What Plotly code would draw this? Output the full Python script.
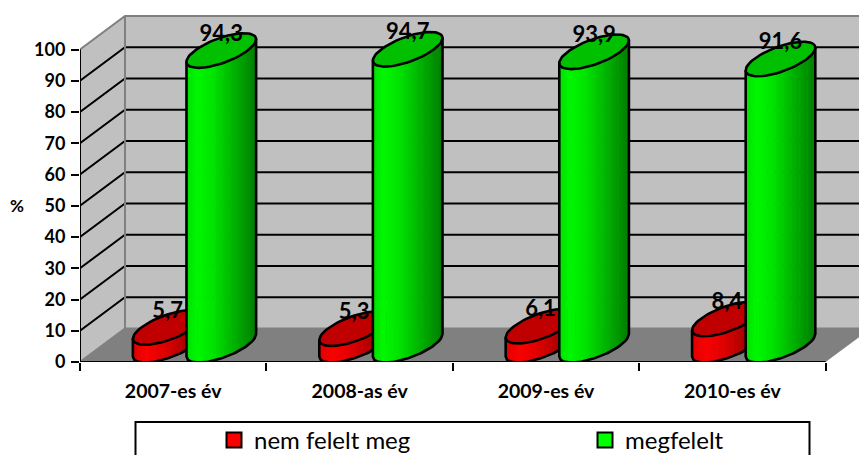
import numpy as np
import plotly.graph_objects as go

categories = ["2007-es év", "2008-as év", "2009-es év", "2010-es év"]
nem_felelt_meg = [5.7, 5.3, 6.1, 8.4]
megfelelt = [94.3, 94.7, 93.9, 91.6]
value_ticks = [0, 10, 20, 30, 40, 50, 60, 70, 80, 90, 100]

W, H = 859, 455
L, B = 80, 93
PB = H - B       # pixel row of the value 0
PW = W - L
PX_X = 186.4     # px per category
PX_Y = 3.125     # px per value unit
FONT = "Lato"

# 3D-look projection, in axis units
DEPTH_X = 45 / PX_X
DEPTH_Y = 33.5 / PX_Y
RX = 26.4 / PX_X
HX = 22.7 / PX_X
HY = 17.3 / PX_Y
T0 = np.arctan2(HX, RX)
GROUP = 26.8 / PX_X
NUDGE = -1.2 / PX_X
LABEL_LIFT = 1.4

RED_STOPS = [(0, (225, 0, 0)), (.2, (250, 0, 0)), (.45, (225, 0, 0)), (1, (130, 0, 0))]
GREEN_STOPS = [(0, (0, 225, 0)), (.15, (0, 248, 0)), (.4, (0, 225, 0)), (1, (0, 125, 0))]
RED_TOP = "rgb(192,0,0)"
GREEN_TOP = "rgb(0,192,0)"
OUTLINE = 2.6


def arc(cx, cy, t):
    return cx + RX * np.cos(t) + HX * np.sin(t), cy + HY * np.sin(t)


def front_t(f):
    return T0 + 2 * np.pi - np.arccos(2 * np.asarray(f) - 1)


def shade(f, stops):
    fs = [s[0] for s in stops]
    c = [np.interp(f, fs, [s[1][k] for s in stops]) for k in range(3)]
    return "rgb(%d,%d,%d)" % tuple(int(v) for v in c)


def poly(x, y, color):
    return go.Scatter(x=list(x), y=list(y), mode="lines", fill="toself", fillcolor=color,
                      line=dict(width=0, color=color), hoverinfo="skip",
                      showlegend=False, cliponaxis=False)


def cylinder(fig, cx, value, stops, top):
    base = DEPTH_Y / 2
    N = 26
    edges = np.linspace(0, 1, N + 1)
    for i in range(N):
        fs = np.linspace(edges[i], min(edges[i + 1] + 0.008, 1), 4)
        xb, yb = arc(cx, base, front_t(fs))
        xt, yt = arc(cx, base + value, front_t(fs))
        fig.add_trace(poly(np.r_[xb, xt[::-1]], np.r_[yb, yt[::-1]], shade((i + .5) / N, stops)))
    ts = np.linspace(0, 2 * np.pi, 73)
    xe, ye = arc(cx, base + value, ts)
    fig.add_trace(go.Scatter(x=xe, y=ye, mode="lines", fill="toself", fillcolor=top,
                             line=dict(color="black", width=OUTLINE), hoverinfo="skip",
                             showlegend=False, cliponaxis=False))
    fs = np.linspace(0, 1, 50)
    xb, yb = arc(cx, base, front_t(fs))
    xo = np.r_[xb[0], xb, xb[-1]]
    yo = np.r_[base + value + HY * np.sin(T0 + np.pi), yb, base + value + HY * np.sin(T0)]
    fig.add_trace(go.Scatter(x=xo, y=yo, mode="lines", line=dict(color="black", width=OUTLINE),
                             hoverinfo="skip", showlegend=False, cliponaxis=False))


fig = go.Figure()
n = len(categories)
far = n + DEPTH_X
shapes = []
GRAY = "rgb(128,128,128)"
WALL = "rgb(192,192,192)"


def path(pts, fill=None, color=None, width=0):
    d = "M " + " L ".join(f"{x},{y}" for x, y in pts) + (" Z" if fill else "")
    return dict(type="path", xref="x", yref="y", path=d, fillcolor=fill, layer="below",
                line=dict(color=color or "rgba(0,0,0,0)", width=width))


top = value_ticks[-1]
shapes.append(path([(0, 0), (DEPTH_X, DEPTH_Y), (DEPTH_X, DEPTH_Y + top), (0, top)], WALL))
shapes.append(path([(DEPTH_X, DEPTH_Y), (far, DEPTH_Y), (far, DEPTH_Y + top), (DEPTH_X, DEPTH_Y + top)], WALL))
shapes.append(path([(0, 0), (DEPTH_X, DEPTH_Y), (far, DEPTH_Y), (n, 0)], GRAY))
for v in value_ticks:
    edge = v in (value_ticks[0], value_ticks[-1])
    c, w = (GRAY, 2) if edge else ("black", 2)
    shapes.append(path([(0, v), (DEPTH_X, v + DEPTH_Y), (far, v + DEPTH_Y)], None, c, w))
shapes.append(path([(DEPTH_X, DEPTH_Y), (DEPTH_X, DEPTH_Y + top)], None, GRAY, 2))
shapes.append(dict(type="rect", xref="paper", yref="paper",
                   x0=(135.5 - L) / PW, x1=(809.5 - L) / PW,
                   y0=(PB - 475) / PB, y1=(PB - 422) / PB,
                   line=dict(color="black", width=2), fillcolor="white", layer="below"))

mids = np.arange(n) + 0.5 + DEPTH_X / 2 + NUDGE
for i in range(n):
    cylinder(fig, mids[i] - GROUP, nem_felelt_meg[i], RED_STOPS, RED_TOP)
    cylinder(fig, mids[i] + GROUP, megfelelt[i], GREEN_STOPS, GREEN_TOP)

# axis lines
fig.add_trace(go.Scatter(x=[0, 0], y=[0, top], mode="lines", line=dict(color="black", width=2),
                         hoverinfo="skip", showlegend=False, cliponaxis=False))
fig.add_trace(go.Scatter(x=[0, n], y=[0, 0], mode="lines", line=dict(color="black", width=2),
                         hoverinfo="skip", showlegend=False, cliponaxis=False))

# data labels
for vals, off in ((nem_felelt_meg, -GROUP), (megfelelt, GROUP)):
    fig.add_trace(go.Scatter(x=mids + off, y=np.array(vals) + DEPTH_Y / 2 + LABEL_LIFT, mode="text",
                             text=[f"{v:.1f}".replace(".", ",") for v in vals],
                             textposition="top center",
                             textfont=dict(family=FONT, size=22, color="black", weight="bold"),
                             hoverinfo="skip", showlegend=False, cliponaxis=False))

# legend entries
for name, col in (("nem felelt meg", "rgb(255,0,0)"), ("megfelelt", "rgb(0,255,0)")):
    fig.add_trace(go.Scatter(x=[None], y=[None], mode="markers", name=name,
                             marker=dict(symbol="square", size=15, color=col,
                                         line=dict(color="black", width=2))))

fig.update_layout(
    width=W, height=H, margin=dict(l=L, r=0, t=0, b=B, autoexpand=False),
    paper_bgcolor="white", plot_bgcolor="white", shapes=shapes,
    font=dict(family=FONT, color="black"),
    legend=dict(orientation="h", x=(214 - L) / PW, xanchor="left",
                y=(PB - 418) / PB, yanchor="top", itemsizing="trace",
                entrywidth=326, entrywidthmode="pixels",
                font=dict(family=FONT, size=24), bgcolor="rgba(0,0,0,0)",
                traceorder="normal", tracegroupgap=0),
    annotations=[dict(text="<b>%</b>", xref="paper", yref="y", xanchor="center",
                      x=(17 - L) / PW, y=50, showarrow=False,
                      font=dict(family=FONT, size=17))],
    xaxis=dict(range=[0, PW / PX_X], showgrid=False, zeroline=False, showline=False,
               tickvals=[i + 0.5 for i in range(n)], ticktext=categories, ticks="",
               ticklabelstandoff=15,
               tickfont=dict(family=FONT, size=19.5, weight="bold"),
               minor=dict(tickvals=list(range(n + 1)), ticks="outside", ticklen=8, tickwidth=2,
                          tickcolor="black", showgrid=False)),
    yaxis=dict(range=[0, PB / PX_Y], showgrid=False, zeroline=False, showline=False,
               tickvals=value_ticks, ticks="outside", ticklen=8, tickwidth=2, tickcolor="black",
               ticklabelstandoff=2,
               tickfont=dict(family=FONT, size=18, weight="bold")),
)
fig.write_html("out.html", config={"displayModeBar": False},
               post_script="document.body.style.margin='0';")
